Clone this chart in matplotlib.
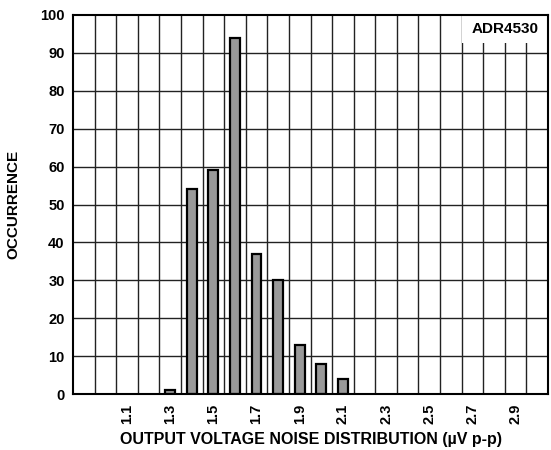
import numpy as np
import matplotlib.pyplot as plt
from matplotlib.patches import Rectangle

plt.rcParams['font.family'] = ['Liberation Sans', 'DejaVu Sans']
plt.rcParams['font.weight'] = 'bold'

noise = [1.3, 1.4, 1.5, 1.6, 1.7, 1.8, 1.9, 2.0, 2.1]
occurrence = [1, 54, 59, 94, 37, 30, 13, 8, 4]
xtick_vals = [1.1, 1.3, 1.5, 1.7, 1.9, 2.1, 2.3, 2.5, 2.7, 2.9]
xtick_labels = ['1.1', '1.3', '1.5', '1.7', '1.9', '2.1', '2.3', '2.5', '2.7', '2.9']

fig = plt.figure(figsize=(5.51, 4.5), dpi=100)
ax = fig.add_axes([0.1325, 0.1244, 0.8621, 0.8423])

ax.bar(noise, occurrence, width=0.045, color='#999999', edgecolor='black',
       linewidth=1.6, zorder=3)

ax.set_xlim(0.85, 3.05)
ax.set_ylim(0, 100)

# grid between categories, excel style
for xg in np.arange(0.95, 3.0, 0.1):
    ax.axvline(xg, color='#222222', lw=1.0, zorder=1)
for yg in range(10, 100, 10):
    ax.axhline(yg, color='#222222', lw=1.0, zorder=1)

ax.set_xticks(xtick_vals)
ax.set_xticklabels(xtick_labels, rotation=90, fontsize=10.5, fontweight='bold')
ax.set_yticks(range(0, 101, 10))
ax.tick_params(axis='y', labelsize=10.5, length=0, pad=6)
ax.tick_params(axis='x', length=0, pad=7)
for lab in ax.get_yticklabels():
    lab.set_fontweight('bold')

for s in ax.spines.values():
    s.set_linewidth(1.5)
    s.set_zorder(6)

ax.set_xlabel('OUTPUT VOLTAGE NOISE DISTRIBUTION (µV p-p)', fontsize=11.5,
              fontweight='bold', labelpad=6)
ax.set_ylabel('OCCURRENCE', fontsize=11, fontweight='bold', labelpad=14)

# white label box in the top right corner
ax.add_patch(Rectangle((0.819, 0.926), 0.181, 0.074, transform=ax.transAxes,
                       facecolor='white', edgecolor='none', zorder=4))
ax.text(0.91, 0.962, 'ADR4530', transform=ax.transAxes, ha='center', va='center',
        fontsize=11, fontweight='bold', zorder=5)

fig.savefig('out.png', dpi=100)
